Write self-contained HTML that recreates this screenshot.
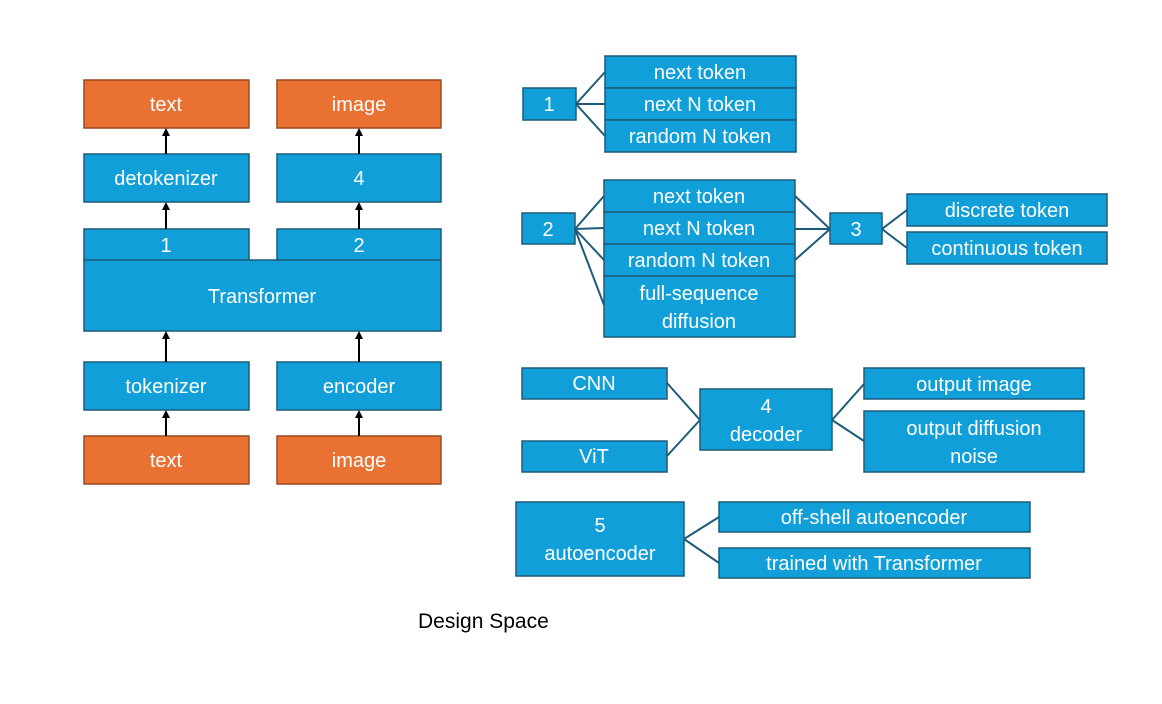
<!DOCTYPE html>
<html><head><meta charset="utf-8"><style>
html,body{margin:0;padding:0;background:#fff;width:1162px;height:704px;overflow:hidden}
svg text{font-family:"Liberation Sans",sans-serif;font-size:20px;fill:#fff;text-anchor:middle}
</style></head><body>
<svg width="1162" height="704" viewBox="0 0 1162 704" xmlns="http://www.w3.org/2000/svg">
<defs><marker id="a" markerUnits="userSpaceOnUse" markerWidth="8" markerHeight="8" refX="2" refY="4" orient="auto"><path d="M0,0 L8,4 L0,8 Z" fill="#000"/></marker></defs>
<g stroke="#1d5b78" stroke-width="1.5">
<g fill="#e97132" stroke="#9c4a1f">
<rect x="84" y="80" width="165" height="48"/><rect x="277" y="80" width="164" height="48"/>
<rect x="84" y="436" width="165" height="48"/><rect x="277" y="436" width="164" height="48"/>
</g>
<g fill="#109fd8">
<rect x="84" y="154" width="165" height="48"/><rect x="277" y="154" width="164" height="48"/>
<rect x="84" y="229" width="165" height="32"/><rect x="277" y="229" width="164" height="31"/>
<rect x="84" y="260" width="357" height="71"/>
<rect x="84" y="362" width="165" height="48"/><rect x="277" y="362" width="164" height="48"/>
<rect x="523" y="88" width="53" height="32"/>
<rect x="605" y="56" width="191" height="32"/><rect x="605" y="88" width="191" height="32"/><rect x="605" y="120" width="191" height="32"/>
<rect x="522" y="213" width="53" height="31"/>
<rect x="604" y="180" width="191" height="32"/><rect x="604" y="212" width="191" height="32"/><rect x="604" y="244" width="191" height="32"/><rect x="604" y="276" width="191" height="61"/>
<rect x="830" y="213" width="52" height="31"/>
<rect x="907" y="194" width="200" height="32"/><rect x="907" y="232" width="200" height="32"/>
<rect x="522" y="368" width="145" height="31"/><rect x="522" y="441" width="145" height="31"/>
<rect x="700" y="389" width="132" height="61"/>
<rect x="864" y="368" width="220" height="31"/><rect x="864" y="411" width="220" height="61"/>
<rect x="516" y="502" width="168" height="74"/>
<rect x="719" y="502" width="311" height="30"/><rect x="719" y="548" width="311" height="30"/>
</g>
<g fill="none" stroke-width="2">
<path d="M576 104L605 72M576 104L605 104M576 104L605 136"/>
<path d="M575 229L604 196M575 229L604 228M575 229L604 260M575 229L604 305"/>
<path d="M795 196L830 229M795 229L830 229M795 260L830 229"/>
<path d="M882 229L907 210M882 229L907 248"/>
<path d="M667 383L700 420M667 456L700 420"/>
<path d="M832 420L864 384M832 420L864 441"/>
<path d="M684 539L719 517M684 539L719 563"/>
</g>
<g stroke="#000" stroke-width="2" marker-end="url(#a)">
<line x1="166" y1="154" x2="166" y2="134"/><line x1="359" y1="154" x2="359" y2="134"/>
<line x1="166" y1="229" x2="166" y2="208"/><line x1="359" y1="229" x2="359" y2="208"/>
<line x1="166" y1="362" x2="166" y2="337"/><line x1="359" y1="362" x2="359" y2="337"/>
<line x1="166" y1="436" x2="166" y2="416"/><line x1="359" y1="436" x2="359" y2="416"/>
</g>
</g>
<text x="166" y="111">text</text><text x="359" y="111">image</text>
<text x="166" y="185">detokenizer</text><text x="359" y="185">4</text>
<text x="166" y="252">1</text><text x="359" y="252">2</text>
<text x="262" y="303">Transformer</text>
<text x="166" y="393">tokenizer</text><text x="359" y="393">encoder</text>
<text x="166" y="467">text</text><text x="359" y="467">image</text>
<text x="549" y="111">1</text>
<text x="700" y="79">next token</text><text x="700" y="111">next N token</text><text x="700" y="143">random N token</text>
<text x="548" y="236">2</text>
<text x="699" y="203">next token</text><text x="699" y="235">next N token</text><text x="699" y="267">random N token</text>
<text x="699" y="300">full-sequence</text><text x="699" y="328">diffusion</text>
<text x="856" y="236">3</text>
<text x="1007" y="217">discrete token</text><text x="1007" y="255">continuous token</text>
<text x="594" y="390">CNN</text><text x="594" y="463">ViT</text>
<text x="766" y="413">4</text><text x="766" y="441">decoder</text>
<text x="974" y="391">output image</text>
<text x="974" y="435">output diffusion</text><text x="974" y="463">noise</text>
<text x="600" y="532">5</text><text x="600" y="560">autoencoder</text>
<text x="874" y="524">off-shell autoencoder</text><text x="874" y="570">trained with Transformer</text>
<text x="418" y="628" style="fill:#000;text-anchor:start;font-size:21px">Design Space</text>
</svg>
</body></html>
